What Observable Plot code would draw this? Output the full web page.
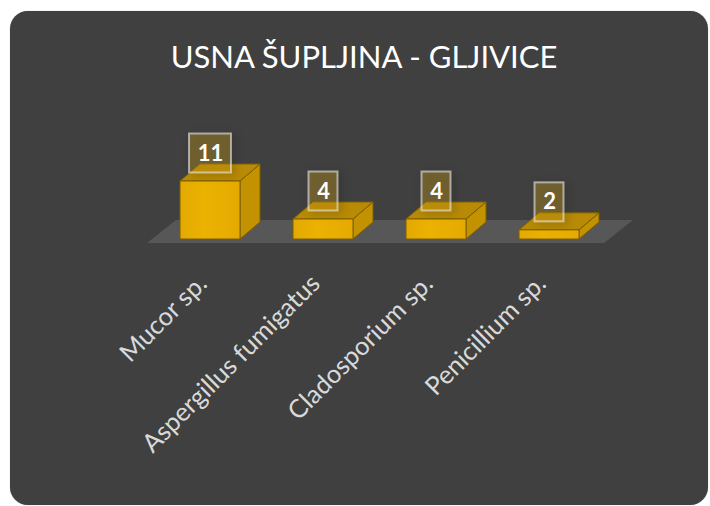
<!DOCTYPE html>
<html><head><meta charset="utf-8">
<script src="https://cdn.jsdelivr.net/npm/d3@7"></script>
<script src="https://cdn.jsdelivr.net/npm/@observablehq/plot@0.6"></script>
<style>
html,body{margin:0;padding:0;background:#fff;width:710px;height:506px;overflow:hidden;}
#card{position:absolute;left:10px;top:11px;width:698px;height:494px;border-radius:18px;background:#404040;box-shadow:0 0 1px #999;}
#title{position:absolute;left:9px;top:36px;width:710px;text-align:center;color:#fff;font-family:Lato;font-size:31px;font-weight:400;line-height:40px;}
#chart{position:absolute;left:0;top:0;}
</style></head>
<body>
<div id="card"></div>
<div id="title">USNA ŠUPLJINA - GLJIVICE</div>
<div id="chart"></div>
<script>
const categories = ["Mucor sp.", "Aspergillus fumigatus", "Cladosporium sp.", "Penicillium sp."];
const values = [11, 4, 4, 2];
const labels = ["11", "4", "4", "2"];

const data = categories.map((c, i) => ({name: c, value: values[i], label: labels[i]}));

const DX = 20, DY = 17;           // bar depth offset (style)
const FDX = 29, FDY = 23;         // floor depth offset (style)

function floorRender(index, scales, values, dims) {
  const y0 = scales.y(0) + 2.3;
  const l = dims.marginLeft - 9, r = dims.width - dims.marginRight;
  const g = d3.create("svg:g");
  g.append("path")
    .attr("d", `M${l},${y0}L${r},${y0}L${r+FDX},${y0-FDY}L${l+FDX},${y0-FDY}Z`)
    .attr("fill", "#575757");
  return g.node();
}

function barRender(index, scales, values, dims, context, next) {
  const {x, y} = scales;
  const bw = x.bandwidth();
  const g = d3.create("svg:g");
  const defs = g.append("defs");
  const lg = defs.append("linearGradient").attr("id", "frontGrad").attr("x1", 0).attr("x2", 1).attr("y1", 0).attr("y2", 0);
  lg.append("stop").attr("offset", "0%").attr("stop-color", "#e3a900");
  lg.append("stop").attr("offset", "40%").attr("stop-color", "#ecb200");
  lg.append("stop").attr("offset", "100%").attr("stop-color", "#e4aa00");
  for (const i of index) {
    const d = data[i];
    const x0 = x(d.name), x1 = x0 + bw;
    const yt = y(d.value), yb = y(0) - 1.7;
    const bar = g.append("g");
    bar.append("path")
      .attr("d", `M${x1},${yt}L${x1+DX},${yt-DY}L${x1+DX},${yb-DY}L${x1},${yb}Z`)
      .attr("fill", "#c39200").attr("stroke", "#7d5f00").attr("stroke-width", 1).attr("stroke-linejoin","round");
    bar.append("path")
      .attr("d", `M${x0},${yt}L${x0+DX},${yt-DY}L${x1+DX},${yt-DY}L${x1},${yt}Z`)
      .attr("fill", "#b88a06").attr("stroke", "#7d5f00").attr("stroke-width", 1).attr("stroke-linejoin","round");
    bar.append("rect")
      .attr("x", x0).attr("y", yt).attr("width", bw).attr("height", yb - yt)
      .attr("fill", "url(#frontGrad)").attr("stroke", "#7d5f00").attr("stroke-width", 1);
  }
  return g.node();
}

function boxRender(index, scales, values, dims, context, next) {
  const {x, y} = scales;
  const bw = x.bandwidth();
  const g = d3.create("svg:g");
  const boxes = g.append("g").style("filter", "drop-shadow(3px 2px 4px rgba(0,0,0,0.35))");
  for (const i of index) {
    const d = data[i];
    const cx = x(d.name) + bw / 2;
    const cy = y(d.value) - 28;
    const w = 16 + 13 * d.label.length, h = 39;
    boxes.append("rect")
      .attr("x", cx - w / 2).attr("y", cy - h / 2).attr("width", w).attr("height", h)
      .attr("fill", "rgba(235,178,20,0.30)").attr("stroke", "rgba(235,235,235,0.6)").attr("stroke-width", 2);
  }
  g.append(() => next(index, scales, values, dims, context));
  return g.node();
}

const chart = Plot.plot({
  width: 710,
  height: 506,
  marginTop: 143,
  marginBottom: 265.3,
  marginLeft: 156,
  marginRight: 106,
  style: {background: "transparent", overflow: "visible"},
  x: {domain: categories, paddingInner: 0.465, paddingOuter: 0.2, axis: null},
  y: {domain: [0, 18], axis: null},
  marks: [
    Plot.ruleY([0], {render: floorRender}),
    Plot.barY(data, {x: "name", y: "value", render: barRender}),
    Plot.text(data, {x: "name", y: "value", text: "label", dy: -28, fill: "#ffffff",
      fontWeight: "bold", fontSize: 22, fontFamily: "Lato", render: boxRender}),
    Plot.text(categories, {x: d => d, frameAnchor: "bottom", rotate: -45, textAnchor: "end",
      lineAnchor: "bottom", dx: -2, dy: 44, fill: "#d9d9d9", fontSize: 25.5, fontFamily: "Lato"})
  ]
});
document.getElementById("chart").appendChild(chart);
</script>
</body></html>
